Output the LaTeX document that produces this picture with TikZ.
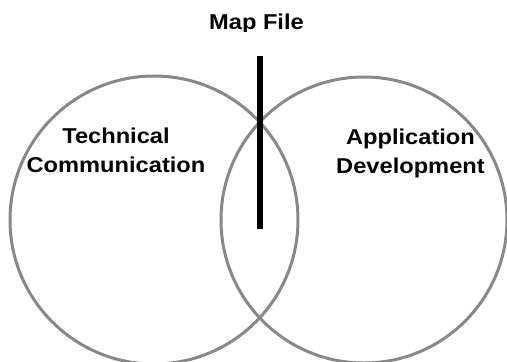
\documentclass[tikz,border=0pt]{standalone}
\usepackage{fontspec}
\setmainfont{Liberation Sans}
\definecolor{ringgray}{RGB}{136,136,136}
\begin{document}
\begin{tikzpicture}[x=1pt,y=-1pt,
  ring/.style={draw=ringgray, line width=3pt},
  lbl/.style={anchor=base, inner sep=0pt, font=\fontsize{21.5}{26}\selectfont\bfseries},
  bar/.style={line width=6pt, draw=black}]
\useasboundingbox (0,0) rectangle (507,362);
\clip (0,0) rectangle (507,362);
\node[ring, circle, minimum size=288pt, inner sep=0pt] (left) at (154,220) {};
\node[ring, circle, minimum size=286pt, inner sep=0pt] (right) at (364,220) {};
\coordinate (bartop) at (260,56);
\coordinate (barbot) at (260,229);
\draw[bar] (bartop) -- (barbot);
\begin{scope}
\clip (0,0) rectangle (507,31.5);
\node[lbl] (map) at (256.5,29.5) {\scalebox{1.1}[1]{Map File}};
\end{scope}
\node[lbl] (tech) at (116,143) {\scalebox{1.1}[1]{Technical}};
\node[lbl] (comm) at (116,172) {\scalebox{1.1}[1]{Communication}};
\node[lbl] (app) at (410.5,144) {\scalebox{1.1}[1]{Application}};
\node[lbl] (dev) at (410.5,173) {\scalebox{1.1}[1]{Development}};
\end{tikzpicture}
\end{document}
